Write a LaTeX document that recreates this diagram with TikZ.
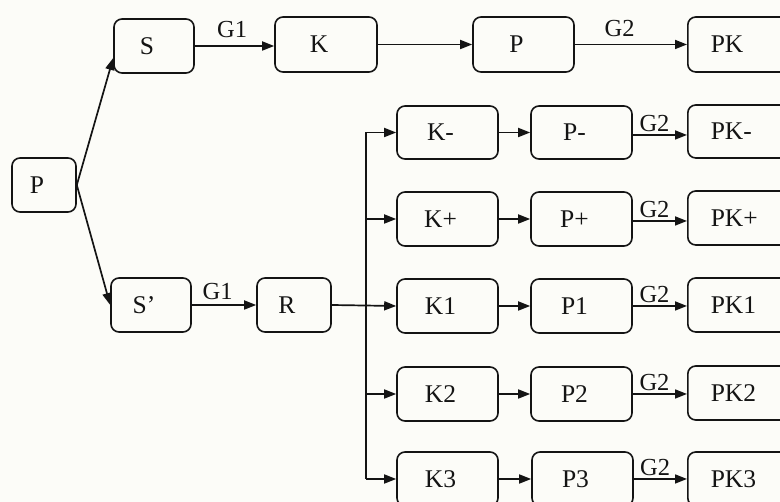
\documentclass[tikz,border=0pt]{standalone}
\usepackage{fontspec}
\setmainfont{Liberation Serif}
\usetikzlibrary{arrows.meta}
\definecolor{bgc}{RGB}{252,252,248}
\definecolor{ink}{RGB}{20,20,20}
\tikzset{
  rbox/.style={draw=ink, rounded corners=8pt, line width=1.6pt, fill=bgc,
    minimum height=54pt, inner sep=0pt, text=ink,
    font=\fontsize{25.5}{28}\selectfont},
  nbox/.style={rbox, execute at end node={\hspace{14pt}}},
  pkbox/.style={rbox, anchor=west, inner xsep=23pt, text width=64pt, align=left},
  arr/.style={draw=ink, line width=1.7pt, -{Triangle[length=12pt,width=9pt]}},
  ln/.style={draw=ink, line width=1.7pt},
  glab/.style={font=\fontsize{24.5}{26}\selectfont, text=ink, inner sep=1pt},
}
\begin{document}
\begin{tikzpicture}[x=1pt,y=-1pt]
\useasboundingbox (0,0) rectangle (780,502);
\fill[bgc] (0,0) rectangle (780,502);
\clip (0,0) rectangle (780,502);
% left part
\node[nbox, minimum width=64pt] (P0) at (44,185) {P};
\node[nbox, minimum width=80pt] (S) at (154,46) {S};
\node[nbox, minimum width=80pt] (Sp) at (151,305) {S’};
\node[nbox, minimum width=74pt] (R) at (294,305) {R};
% top row
\node[nbox, minimum width=102pt, minimum height=55pt] (K) at (326,44.5) {K};
\node[nbox, minimum width=101pt, minimum height=55pt] (Pt) at (523.5,44.5) {P};
\node[pkbox, minimum height=55pt] (PKt) at (687,44.5) {PK};
% branch rows
\node[nbox, minimum width=101pt, minimum height=53pt] (Km) at (447.5,132.5) {K-};
\node[nbox, minimum width=101pt, minimum height=53pt] (Pm) at (581.5,132.5) {P-};
\node[pkbox, minimum height=53pt] (PKm) at (687,131.5) {PK-};
\node[nbox, minimum width=101pt] (Kp) at (447.5,219) {K+};
\node[nbox, minimum width=101pt] (Pp) at (581.5,219) {P+};
\node[pkbox] (PKp) at (687,218) {PK+};
\node[nbox, minimum width=101pt] (K1) at (447.5,306) {K1};
\node[nbox, minimum width=101pt] (P1) at (581.5,306) {P1};
\node[pkbox] (PK1) at (687,305) {PK1};
\node[nbox, minimum width=101pt] (K2) at (447.5,394) {K2};
\node[nbox, minimum width=101pt] (P2) at (581.5,394) {P2};
\node[pkbox] (PK2) at (687,393) {PK2};
\node[nbox, minimum width=101pt] (K3) at (447.5,479) {K3};
\node[nbox, minimum width=101pt] (P3) at (582.5,479) {P3};
\node[pkbox] (PK3) at (687,479) {PK3};
% connectors
\draw[arr] (P0.east) -- ([yshift=-12pt]S.west);
\draw[arr] (P0.east) -- (Sp.west);
\draw[arr] (S.east) -- node[glab, above, pos=0.47, yshift=6pt] {G1} (S.east -| K.west);
\draw[arr] (K.east) -- (Pt.west);
\draw[arr] (Pt.east) -- node[glab, above, pos=0.4, yshift=6pt] {G2} (PKt.west);
\draw[arr] (Sp.east) -- node[glab, above, pos=0.4, yshift=3pt] {G1} (R.west);
\draw[arr] (R.east) -- (K1.west);
\coordinate (jm) at (366,132.5);
\coordinate (jp) at (366,219);
\coordinate (j2) at (366,394);
\coordinate (j3) at (366,479);
\draw[ln] (jm) -- (j3);
\draw[arr] (jm) -- (Km.west);
\draw[arr] (jp) -- (Kp.west);
\draw[arr] (j2) -- (K2.west);
\draw[arr] (j3) -- (K3.west);
\draw[arr] (Km.east) -- (Pm.west);
\draw[arr] (Kp.east) -- (Pp.west);
\draw[arr] (K1.east) -- (P1.west);
\draw[arr] (K2.east) -- (P2.west);
\draw[arr] (K3.east) -- (P3.west);
\draw[arr] ([yshift=-2.5pt]Pm.east) -- node[glab, above, pos=0.4, yshift=1pt] {G2} ([yshift=-2.5pt]Pm.east -| PKm.west);
\draw[arr] ([yshift=-2pt]Pp.east) -- node[glab, above, pos=0.4, yshift=1pt] {G2} ([yshift=-2pt]Pp.east -| PKp.west);
\draw[arr] (P1.east) -- node[glab, above, pos=0.4, yshift=1pt] {G2} (P1.east -| PK1.west);
\draw[arr] (P2.east) -- node[glab, above, pos=0.4, yshift=1pt] {G2} (P2.east -| PK2.west);
\draw[arr] (P3.east) -- node[glab, above, pos=0.4, yshift=1pt] {G2} (PK3.west);
\end{tikzpicture}
\end{document}
